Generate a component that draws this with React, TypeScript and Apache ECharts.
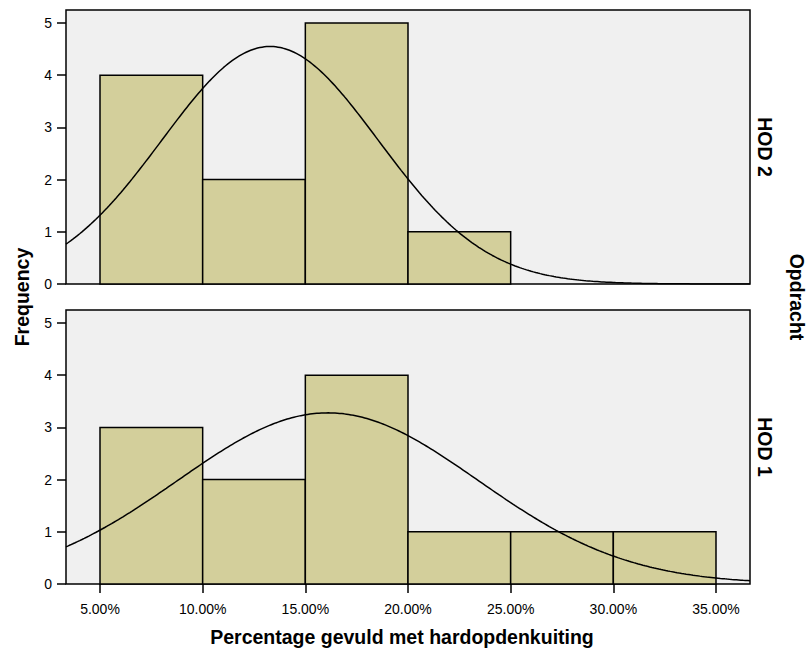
import React, { useEffect, useRef } from "react";
import * as echarts from "echarts";

// Histogram bins (percent) and counts per group
const binEdges = [5, 10, 15, 20, 25, 30, 35];
const countsHOD2 = [4, 2, 5, 1];
const countsHOD1 = [3, 2, 4, 1, 1, 1];

// Fitted normal curve parameters per group
const nHOD2 = 12;
const meanHOD2 = 13.28;
const sdHOD2 = 5.26;
const nHOD1 = 12;
const meanHOD1 = 16.1;
const sdHOD1 = 7.3;

const xTicks = [5, 10, 15, 20, 25, 30, 35];
const yTicks = [0, 1, 2, 3, 4, 5];

const X_MIN = 3.344;
const X_MAX = 36.656;
const Y_MAX = 5.25;
const BIN_WIDTH = 5;

const FONT = "'Liberation Sans', Arial, Helvetica, sans-serif";
const BAR_FILL = "#d3cf9b";
const PLOT_BG = "#f0f0f0";

function binData(counts: number[]) {
  return counts.map((c, i) => [binEdges[i], binEdges[i + 1], c]);
}

function normalCurve(n: number, mean: number, sd: number) {
  const pts: number[][] = [];
  const steps = 300;
  for (let i = 0; i <= steps; i++) {
    const x = X_MIN + ((X_MAX - X_MIN) * i) / steps;
    const z = (x - mean) / sd;
    const y = (n * BIN_WIDTH * Math.exp(-0.5 * z * z)) / (sd * Math.sqrt(2 * Math.PI));
    pts.push([x, y]);
  }
  return pts;
}

function renderBin(params: any, api: any) {
  const p0 = api.coord([api.value(0), 0]);
  const p1 = api.coord([api.value(1), api.value(2)]);
  return {
    type: "rect",
    shape: { x: p0[0], y: p1[1], width: p1[0] - p0[0], height: p0[1] - p1[1] },
    style: { fill: BAR_FILL, stroke: "#000", lineWidth: 1.5 },
  };
}

export default function App() {
  const ref = useRef<HTMLDivElement>(null);

  useEffect(() => {
    document.body.style.margin = "0";
    if (!ref.current) return;
    const chart = echarts.init(ref.current, null, { renderer: "svg" });

    const gridBase = {
      left: 66,
      width: 684,
      height: 274,
      show: true,
      backgroundColor: PLOT_BG,
      borderColor: "#000",
      borderWidth: 1.5,
      containLabel: false,
    };

    const xAxisBase = {
      type: "value",
      min: X_MIN,
      max: X_MAX,
      axisLine: { show: false },
      splitLine: { show: false },
    };

    const yAxisBase = {
      type: "value",
      min: 0,
      max: Y_MAX,
      axisLine: { show: false },
      splitLine: { show: false },
      axisTick: {
        show: true,
        length: 9,
        customValues: yTicks,
        lineStyle: { color: "#000", width: 1.5 },
      },
      axisLabel: {
        show: true,
        customValues: yTicks,
        margin: 14,
        color: "#000",
        fontSize: 14,
        fontFamily: FONT,
      },
    };

    chart.setOption({
      animation: false,
      backgroundColor: "#fff",
      grid: [
        { ...gridBase, top: 10 },
        { ...gridBase, top: 310 },
      ],
      xAxis: [
        {
          ...xAxisBase,
          gridIndex: 0,
          axisTick: { show: false },
          axisLabel: { show: false },
        },
        {
          ...xAxisBase,
          gridIndex: 1,
          axisTick: {
            show: true,
            length: 9,
            customValues: xTicks,
            lineStyle: { color: "#000", width: 1.5 },
          },
          axisLabel: {
            show: true,
            customValues: xTicks,
            margin: 18,
            color: "#000",
            fontSize: 14,
            fontFamily: FONT,
            formatter: (v: number) => v.toFixed(2) + "%",
          },
        },
      ],
      yAxis: [
        { ...yAxisBase, gridIndex: 0 },
        { ...yAxisBase, gridIndex: 1 },
      ],
      series: [
        {
          type: "custom",
          xAxisIndex: 0,
          yAxisIndex: 0,
          renderItem: renderBin,
          encode: { x: [0, 1], y: 2 },
          data: binData(countsHOD2),
          z: 2,
        },
        {
          type: "custom",
          xAxisIndex: 1,
          yAxisIndex: 1,
          renderItem: renderBin,
          encode: { x: [0, 1], y: 2 },
          data: binData(countsHOD1),
          z: 2,
        },
        {
          type: "line",
          xAxisIndex: 0,
          yAxisIndex: 0,
          data: normalCurve(nHOD2, meanHOD2, sdHOD2),
          showSymbol: false,
          symbol: "none",
          clip: true,
          lineStyle: { color: "#000", width: 1.5 },
          z: 3,
        },
        {
          type: "line",
          xAxisIndex: 1,
          yAxisIndex: 1,
          data: normalCurve(nHOD1, meanHOD1, sdHOD1),
          showSymbol: false,
          symbol: "none",
          clip: true,
          lineStyle: { color: "#000", width: 1.5 },
          z: 3,
        },
      ],
      graphic: [
        {
          type: "text",
          x: 22,
          y: 297,
          rotation: Math.PI / 2,
          style: {
            text: "Frequency",
            fontSize: 19.5,
            fontWeight: "bold",
            fontFamily: FONT,
            fill: "#000",
            align: "center",
            verticalAlign: "middle",
          },
        },
        {
          type: "text",
          x: 402,
          y: 637,
          style: {
            text: "Percentage gevuld met hardopdenkuiting",
            fontSize: 19.5,
            fontWeight: "bold",
            fontFamily: FONT,
            fill: "#000",
            align: "center",
            verticalAlign: "middle",
          },
        },
        {
          type: "text",
          x: 765,
          y: 147,
          rotation: -Math.PI / 2,
          style: {
            text: "HOD 2",
            fontSize: 19.5,
            fontWeight: "bold",
            fontFamily: FONT,
            fill: "#000",
            align: "center",
            verticalAlign: "middle",
          },
        },
        {
          type: "text",
          x: 765,
          y: 447,
          rotation: -Math.PI / 2,
          style: {
            text: "HOD 1",
            fontSize: 19.5,
            fontWeight: "bold",
            fontFamily: FONT,
            fill: "#000",
            align: "center",
            verticalAlign: "middle",
          },
        },
        {
          type: "text",
          x: 797,
          y: 297,
          rotation: -Math.PI / 2,
          style: {
            text: "Opdracht",
            fontSize: 19.5,
            fontWeight: "bold",
            fontFamily: FONT,
            fill: "#000",
            align: "center",
            verticalAlign: "middle",
          },
        },
      ],
    });

    return () => {
      chart.dispose();
    };
  }, []);

  return <div ref={ref} style={{ width: 807, height: 652 }} />;
}
